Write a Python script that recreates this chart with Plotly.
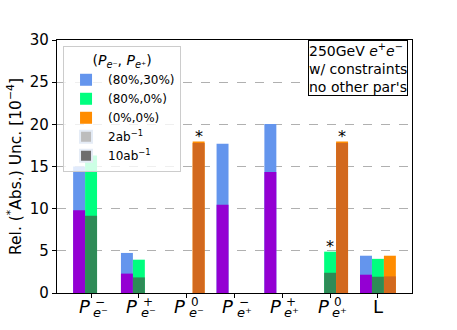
import plotly.graph_objects as go

# categories (index positions) and values in units of 1e-4
cats = [0, 1, 2, 3, 4, 5, 6]
cat_main = ["P", "P", "P", "P", "P", "P", "L"]
cat_sup = ["−", "+", "0", "−", "+", "0", ""]
cat_sub = ["⁻", "⁻", "⁻", "⁺", "⁺", "⁺", ""]

blue_2ab = [15.0, 4.75, None, 17.7, 20.05, None, 4.42]
blue_10ab = [9.8, 2.3, None, 10.45, 14.35, None, 2.17]
green_2ab = [16.3, 3.95, None, None, None, 4.9, 4.05]
green_10ab = [9.15, 1.85, None, None, None, 2.4, 1.93]
orange_2ab = [None, None, 17.95, None, None, 17.95, 4.42]
orange_10ab = [None, None, 17.8, None, None, 17.78, 1.97]

# asterisks mark absolute uncertainties: (category, bar offset, value)
star_cat = [2, 5, 5]
star_off = [0.25, 0.0, 0.25]
star_val = [17.95, 4.9, 17.95]

FONT = "DejaVu Sans"
W = 0.25

fig = go.Figure()

# 2ab bars (lighter colours) - these carry the polarisation legend
fig.add_trace(go.Bar(x=cats, y=blue_2ab, width=W, offset=-0.375, marker_color="#6495ED",
                     marker_line_width=0, name="(80%,30%)"))
fig.add_trace(go.Bar(x=cats, y=green_2ab, width=W, offset=-0.125, marker_color="#00FF7F",
                     marker_line_width=0, name="(80%,0%)"))
fig.add_trace(go.Bar(x=cats, y=orange_2ab, width=W, offset=0.125, marker_color="#FF8C00",
                     marker_line_width=0, name="(0%,0%)"))

# 10ab bars drawn on top
fig.add_trace(go.Bar(x=cats, y=blue_10ab, width=W, offset=-0.375, marker_color="#9400D3",
                     marker_line_width=0, showlegend=False))
fig.add_trace(go.Bar(x=cats, y=green_10ab, width=W, offset=-0.125, marker_color="#2E8B57",
                     marker_line_width=0, showlegend=False))
fig.add_trace(go.Bar(x=cats, y=orange_10ab, width=W, offset=0.125, marker_color="#D2691E",
                     marker_line_width=0, showlegend=False))

# legend-only entries for luminosity
fig.add_trace(go.Bar(x=[None], y=[None], marker_color="#bdbdbd", name="2ab<sup>−1</sup>"))
fig.add_trace(go.Bar(x=[None], y=[None], marker_color="#6e6e6e", name="10ab<sup>−1</sup>"))

annotations = []
for i in cats:
    is_p = cat_main[i] == "P"
    annotations.append(dict(x=i, y=0, xref="x", yref="paper",
                            text="<i>P</i>" if is_p else cat_main[i],
                            showarrow=False, xanchor="center", yanchor="top",
                            xshift=-7 if is_p else 0, yshift=-1,
                            font=dict(family=FONT, size=18, color="black")))
    if cat_sup[i]:
        annotations.append(dict(x=i, y=0, xref="x", yref="paper", text=cat_sup[i],
                                showarrow=False, xanchor="left", yanchor="top",
                                xshift=2, yshift=0,
                                font=dict(family=FONT, size=12, color="black")))
        annotations.append(dict(x=i, y=0, xref="x", yref="paper",
                                text="<i>e</i>" + cat_sub[i],
                                showarrow=False, xanchor="left", yanchor="top",
                                xshift=0, yshift=-10,
                                font=dict(family=FONT, size=13, color="black")))

for c, o, v in zip(star_cat, star_off, star_val):
    annotations.append(dict(x=c + o, y=v, xref="x", yref="y", text="*", showarrow=False,
                            xanchor="center", yanchor="bottom", yshift=-6,
                            font=dict(family=FONT, size=16, color="black")))

annotations.append(dict(x=0.99, y=1.0, xref="paper", yref="paper", xanchor="right",
                        yanchor="top", align="left", showarrow=False,
                        text="250GeV <i>e</i><sup>+</sup><i>e</i><sup>−</sup><br>w/ constraints<br>no other par's",
                        bordercolor="black", borderwidth=1, borderpad=0, bgcolor="white",
                        font=dict(family=FONT, size=14, color="black")))

fig.update_layout(
    width=457, height=330,
    margin=dict(l=57, r=45, t=40, b=37),
    barmode="overlay",
    plot_bgcolor="white", paper_bgcolor="white",
    font=dict(family=FONT, size=15, color="black"),
    showlegend=True,
    legend=dict(x=0.017, y=0.976, xanchor="left", yanchor="top",
                bgcolor="rgba(255,255,255,0.8)", bordercolor="#cccccc", borderwidth=1,
                font=dict(family=FONT, size=12), itemwidth=34,
                title=dict(text="(<i>P</i><sub><i>e</i>⁻</sub>, <i>P</i><sub><i>e</i>⁺</sub>)",
                           side="top center", font=dict(family=FONT, size=14)),
                itemsizing="constant", tracegroupgap=0),
    annotations=annotations,
)

fig.update_xaxes(range=[-0.7125, 6.7125], tickvals=cats, ticktext=[""] * 7,
                 ticks="outside", ticklen=4, tickcolor="black", automargin=False,
                 showline=True, linecolor="black", linewidth=1.3, mirror=True,
                 showgrid=False, zeroline=False)
fig.update_yaxes(range=[0, 30], tickvals=[0, 5, 10, 15, 20, 25, 30],
                 ticks="outside", ticklen=4, tickcolor="black", automargin=False,
                 showline=True, linecolor="black", linewidth=1.3, mirror=True,
                 showgrid=True, gridcolor="#b0b0b0", gridwidth=0.7, griddash="dash",
                 zeroline=False, tickfont=dict(size=15),
                 title=dict(text="Rel. (<sup>*</sup>Abs.) Unc. [10<sup>−4</sup>]",
                            font=dict(family=FONT, size=15.5), standoff=4))

# the page body has a default 8px margin; drop it so the figure fills the window
fig.write_html("out.html", config={"displayModeBar": False},
               post_script="document.body.style.margin='0';")
